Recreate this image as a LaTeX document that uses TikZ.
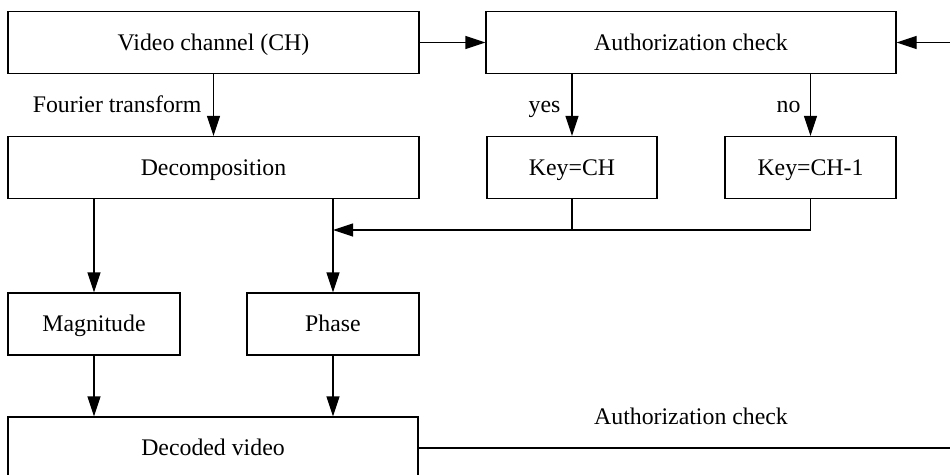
\documentclass[tikz,border=0pt]{standalone}
\usepackage{fontspec}
\setmainfont{Liberation Serif}
\usetikzlibrary{arrows.meta}
\usetikzlibrary{calc}

\begin{document}
\begin{tikzpicture}[x=1pt, y=-1pt, line width=1.2pt]%%decoding

                \tikzstyle{block} = [rectangle, draw, minimum height=62pt, inner sep=0pt, text height=19pt, text depth=4pt, font=\fontsize{23.8}{28}\selectfont]
                \tikzstyle{lbl}   = [inner sep=0pt, anchor=base east, font=\fontsize{23.8}{28}\selectfont]
                \tikzstyle{tri}   = [-{Triangle[length=20pt, width=13pt]}]
                \useasboundingbox (0,0) rectangle (950,474);

                \node [block, minimum width=411pt](video) at (213.5,42.5) {Video channel (CH)};
                \node [block, minimum width=410pt](auth) at (691,42.5) {Authorization check};
                \node [block, minimum width=411pt](decomp) at (213.5,167.5) {Decomposition};
                \node [block, minimum width=170pt](keych) at (572,167.5) {Key=CH};
                \node [block, minimum width=171pt](keych1) at (810.5,167.5) {Key=CH-1};
                \node [block, minimum width=172pt](mag) at (94,324) {Magnitude};
                \node [block, minimum width=172pt](phase) at (333,324) {Phase};
                \node [block, minimum width=410pt](decoded) at (213,448) {Decoded video};

                \coordinate (inR) at (950,42.5);
                \coordinate (outR) at (950,448);
                \coordinate (join) at (333,230);

                \draw [tri] (video) -- (auth);
                \draw [tri] (inR) -- (auth);
                \draw [tri] (video) -- (decomp);
                \draw [tri] (auth.south -| keych) -- (keych);
                \draw [tri] (auth.south -| keych1) -- (keych1);
                \draw (keych.south) -- (keych.south |- join);
                \draw [tri] (keych1.south) |- (join);
                \draw [tri] (decomp.south -| phase) -- (phase);
                \draw [tri] (decomp.south -| mag) -- (mag);
                \draw [tri] (mag) -- (mag.south |- decoded.north);
                \draw [tri] (phase) -- (phase.south |- decoded.north);
                \draw (decoded) -- (outR);

                \node [lbl](ft) at (202,112) {Fourier transform};
                \node [lbl](yes) at (561,112) {yes};
                \node [lbl](no) at (801,112) {no};
                \node [lbl, anchor=base](ac) at (691,424) {Authorization check};
\end{tikzpicture}
\end{document}
